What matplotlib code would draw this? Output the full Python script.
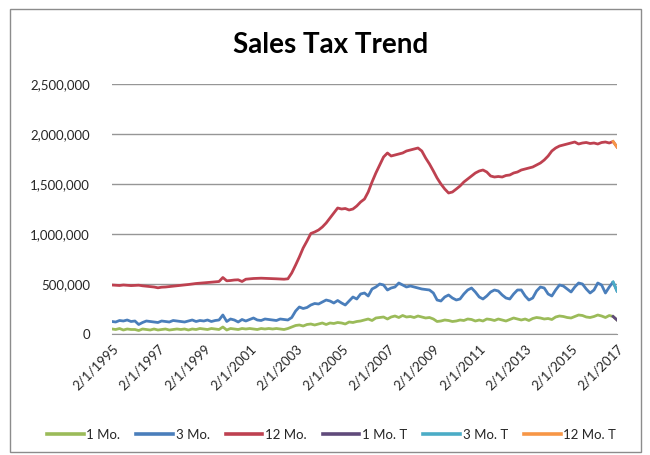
import numpy as np
import pandas as pd
import matplotlib
matplotlib.use("Agg")
import matplotlib.pyplot as plt
from matplotlib.patches import Rectangle

plt.rcParams['font.family'] = ['Lato', 'DejaVu Sans']

# bi-monthly readings (Feb, Apr, Jun, Aug, Oct, Dec), Feb 1995 .. Feb 2017
mo1 = [50, 45, 55, 40, 50, 45,
       45, 35, 50, 45, 40, 50,
       40, 45, 50, 40, 45, 50,
       45, 50, 40, 50, 45, 55,
       50, 45, 55, 50, 45, 70,
       40, 55, 50, 45, 55, 50,
       55, 50, 45, 55, 50, 55,
       50, 55, 50, 45, 55, 70,
       85, 90, 80, 95, 100, 90,
       100, 110, 95, 110, 105, 115,
       110, 100, 120, 115, 125, 130,
       140, 150, 135, 160, 165, 170,
       150, 170, 180, 165, 185, 170,
       175, 165, 180, 170, 160, 165,
       150, 125, 130, 140, 135, 125,
       130, 140, 135, 150, 145, 130,
       140, 130, 150, 145, 135, 150,
       140, 130, 145, 160, 150, 140,
       150, 135, 155, 165, 160, 150,
       155, 145, 170, 180, 175, 165,
       160, 175, 190, 185, 170, 165,
       175, 190, 180, 165, 185, 175,
       140]

mo3 = [125, 120, 135, 130, 140, 125,
       130, 95, 115, 130, 125, 120,
       115, 130, 125, 120, 135, 130,
       125, 120, 130, 140, 125, 135,
       130, 140, 125, 135, 140, 190,
       125, 150, 140, 120, 145, 130,
       145, 160, 140, 135, 150, 145,
       140, 135, 150, 145, 140, 165,
       230, 270, 255, 265, 290, 305,
       300, 320, 340, 330, 310, 335,
       310, 290, 330, 370, 350, 400,
       410, 380, 450, 470, 500, 490,
       440, 460, 470, 510, 490, 470,
       480, 470, 460, 450, 445, 440,
       410, 340, 330, 370, 390, 360,
       340, 350, 400, 440, 460, 420,
       370, 350, 380, 420, 440, 430,
       390, 360, 350, 400, 440, 440,
       380, 340, 360, 430, 470, 460,
       400, 380, 440, 490, 480, 450,
       420, 470, 510, 500, 450, 410,
       440, 510, 490, 410, 470, 520,
       430]

mo12 = [490, 488, 485, 490, 487, 484,
        486, 488, 482, 478, 475, 470,
        462, 468, 470, 474, 478, 482,
        486, 490, 495, 500, 505, 508,
        512, 515, 518, 522, 525, 565,
        532, 535, 540, 542, 525, 548,
        552, 555, 557, 558, 556, 555,
        554, 552, 550, 548, 552, 610,
        690, 770, 860, 930, 1005, 1020,
        1040, 1070, 1110, 1160, 1210, 1260,
        1250, 1255, 1240, 1250, 1280, 1320,
        1350, 1420, 1520, 1610, 1690, 1770,
        1810, 1780, 1790, 1800, 1810, 1830,
        1840, 1850, 1860, 1830, 1760, 1700,
        1630, 1560, 1500, 1450, 1410, 1420,
        1450, 1480, 1520, 1550, 1580, 1610,
        1630, 1640, 1620, 1580, 1570, 1575,
        1570, 1585, 1590, 1610, 1620, 1640,
        1650, 1660, 1670, 1690, 1710, 1740,
        1780, 1830, 1860, 1880, 1890, 1900,
        1910, 1920, 1900, 1910, 1915, 1905,
        1910, 1900, 1915, 1920, 1910, 1925,
        1870]

# trend values for the last two periods (Dec 2016, Feb 2017)
mo1_t = [175, 140]
mo3_t = [520, 430]
mo12_t = [1925, 1870]

tick_dates = ['1995-02-01', '1997-02-01', '1999-02-01', '2001-02-01', '2003-02-01',
              '2005-02-01', '2007-02-01', '2009-02-01', '2011-02-01', '2013-02-01',
              '2015-02-01', '2017-02-01']
tick_labels = ['2/1/1995', '2/1/1997', '2/1/1999', '2/1/2001', '2/1/2003', '2/1/2005',
               '2/1/2007', '2/1/2009', '2/1/2011', '2/1/2013', '2/1/2015', '2/1/2017']

dates = pd.date_range('1995-02-01', periods=len(mo12), freq='2MS')
tdates = dates[-2:]

fig = plt.figure(figsize=(6.5, 4.55), dpi=100)
ax = fig.add_axes([112/650, 1 - 334/455, (617 - 112)/650, (334 - 84)/455])

ax.plot(dates, np.array(mo1)*1000, color='#9BBB59', lw=2.0, label='1 Mo.')
ax.plot(dates, np.array(mo3)*1000, color='#4A7EBB', lw=2.0, label='3 Mo.')
ax.plot(dates, np.array(mo12)*1000, color='#BE4150', lw=2.0, label='12 Mo.')
ax.plot(tdates, np.array(mo1_t)*1000, color='#604A7B', lw=2.0, label='1 Mo. T')
ax.plot(tdates, np.array(mo3_t)*1000, color='#4BACC6', lw=2.0, label='3 Mo. T')
ax.plot(tdates, np.array(mo12_t)*1000, color='#F79646', lw=2.0, label='12 Mo. T')

ax.set_ylim(0, 2500000)
ax.set_yticks(np.arange(0, 2500001, 500000))
ax.yaxis.set_major_formatter(matplotlib.ticker.FuncFormatter(lambda v, p: '{:,.0f}'.format(v)))
ax.set_xlim(dates[0], dates[-1])
ax.set_xticks(pd.to_datetime(tick_dates))
ax.set_xticklabels(tick_labels, rotation=45, ha='right', rotation_mode='anchor')

ax.grid(axis='y', color='#969696', lw=1.0)
ax.set_axisbelow(True)
for s in ['left', 'right', 'top']:
    ax.spines[s].set_visible(False)
ax.spines['bottom'].set_color('#969696')
ax.tick_params(length=0, labelsize=9.5, colors='#262626')
ax.tick_params(axis='y', pad=16)
ax.tick_params(axis='x', pad=6)

fig.text(0.508, 1 - 45/455, 'Sales Tax Trend', ha='center', va='center',
         fontsize=20, fontweight='bold', color='black')

leg = fig.legend(loc='center', bbox_to_anchor=(0.51, 1 - 435/455), ncol=6, frameon=False,
                 fontsize=9.5, handlelength=2.8, handletextpad=0.2, columnspacing=1.2,
                 labelcolor='#262626')
for h in leg.get_lines():
    h.set_linewidth(2.6)

fig.patches.append(Rectangle((10/650, 3/455), 631/650, 443/455, transform=fig.transFigure,
                             fill=False, edgecolor='#8C8C8C', lw=1.0))

fig.savefig('out.png', dpi=100)
